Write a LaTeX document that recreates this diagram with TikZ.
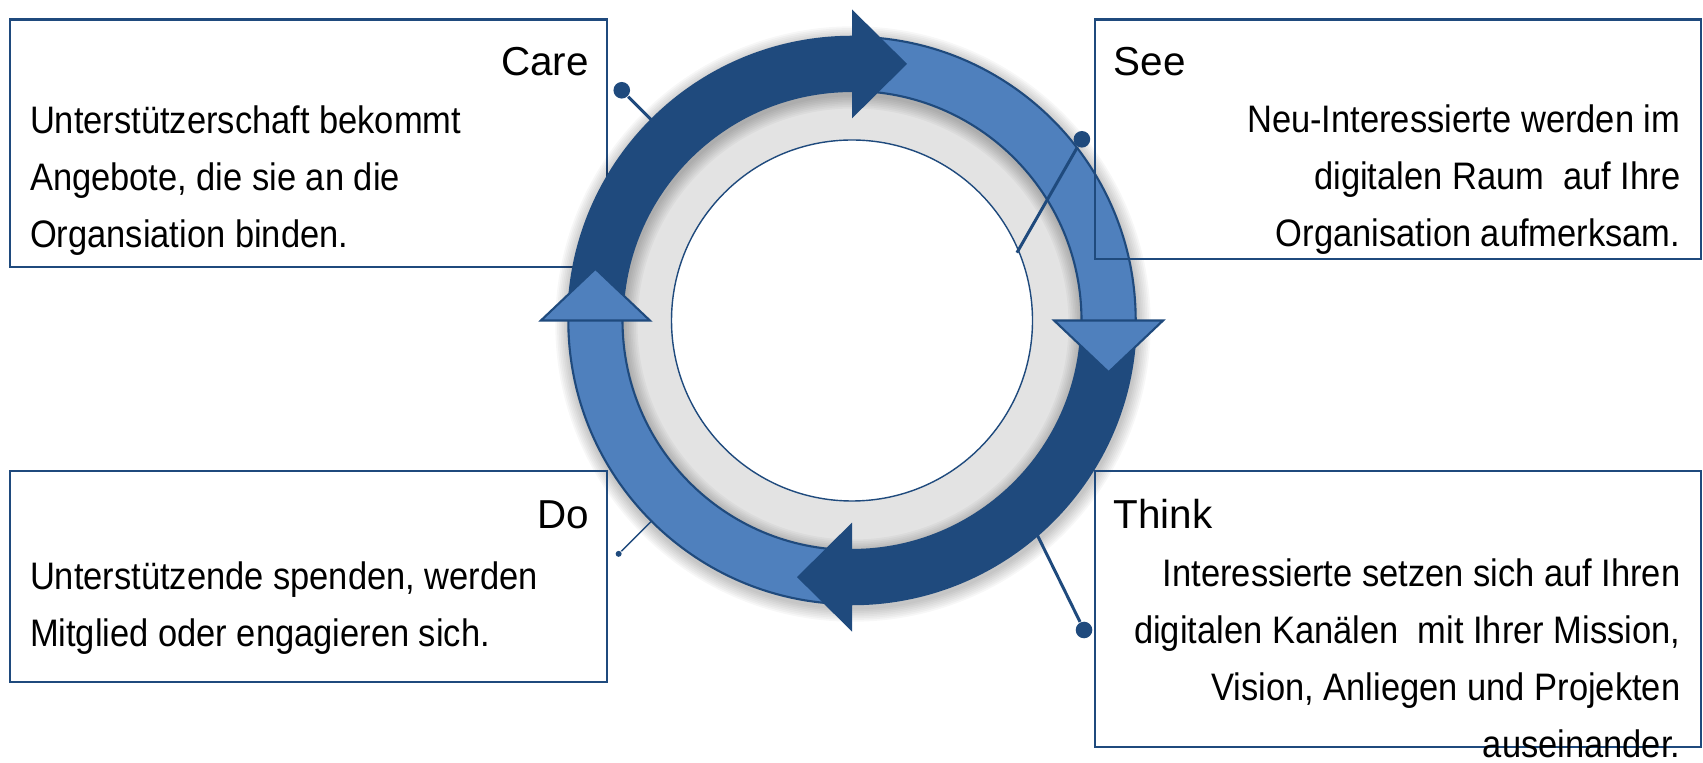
\documentclass[tikz,border=0pt]{standalone}
\usepackage{fontspec}
\setmainfont{Liberation Sans}[FakeStretch=0.9]
\newfontfamily\headfont{Liberation Sans}
\usepackage{tikz}
\usetikzlibrary{calc,positioning}
\definecolor{navy}{rgb}{0.12,0.29,0.49}
\definecolor{steelblue}{rgb}{0.31,0.50,0.74}
\definecolor{ringgray}{rgb}{0.89,0.89,0.89}

\begin{document}
\begin{tikzpicture}
        \tikzstyle{stage}=[draw=navy, line width=0.6pt, inner sep=0pt, anchor=north west]
        \tikzstyle{txt}=[inner sep=0pt, font=\fontsize{10.9}{16.2}\selectfont]
        \tikzstyle{head title}=[inner sep=0pt, font=\headfont\fontsize{11.5}{14}\selectfont]
        \tikzstyle{pin}=[navy, line width=0.85pt]
        \tikzstyle{knob}=[circle, fill=navy, inner sep=0pt, minimum size=0.166cm]
        \tikzstyle{head}=[draw=navy, line width=0.6pt, fill=steelblue, line join=miter]
        \useasboundingbox (0,0) rectangle (17.03,7.62);

        % Centre of the cycle
        \coordinate (ctr) at (8.52,4.415);

        % Care box lies under the ring
        \node (care)[stage, minimum width=5.97cm, minimum height=2.472cm] at (0.087,7.435) {};

        % Gray band with soft shadow
        \fill[ringgray] (ctr) circle (2.295);
        \foreach \w in {1,...,8} {
            \pgfmathsetmacro\lw{0.542+0.035*\w}
            \draw[black, opacity=0.032, line width=\lw cm] ($(ctr)+(0.01,-0.035)$) circle (2.566);
        }
        \draw[navy, line width=0.4pt, fill=white] (ctr) circle (1.805);

        % Light band
        \draw[navy, line width=0.6pt, fill=steelblue, even odd rule]
            (ctr) circle (2.837) (ctr) circle (2.295);

        % Dark arcs and their heads
        \draw[navy, line width=0.542cm] ($(ctr)+(180:2.566)$) arc[start angle=180, end angle=90, radius=2.566];
        \fill[navy] ($(ctr)+(0,2.021)$) -- ($(ctr)+(0,3.111)$) -- ($(ctr)+(0.55,2.566)$) -- cycle;
        \draw[navy, line width=0.542cm] ($(ctr)+(0:2.566)$) arc[start angle=0, end angle=-90, radius=2.566];
        \fill[navy] ($(ctr)+(0,-2.021)$) -- ($(ctr)+(0,-3.111)$) -- ($(ctr)+(-0.55,-2.566)$) -- cycle;

        % Light heads
        \draw[head] ($(ctr)+(2.021,0)$) -- ($(ctr)+(3.111,0)$) -- ($(ctr)+(2.566,-0.517)$) -- cycle;
        \draw[head] ($(ctr)+(-2.021,0)$) -- ($(ctr)+(-3.111,0)$) -- ($(ctr)+(-2.566,0.517)$) -- cycle;

        % Other boxes
        \node (see)[stage, minimum width=6.06cm, minimum height=2.392cm] at (10.94,7.435) {};
        \node (do)[stage, minimum width=5.97cm, minimum height=2.11cm] at (0.087,2.92) {};
        \node (think)[stage, minimum width=6.06cm, minimum height=2.76cm] at (10.94,2.92) {};

        % Pins
        \coordinate (care-a) at ($(ctr)+(135:2.83)$);
        \node (care-dot)[knob] at ($(ctr)+(135:3.256)$) {};
        \draw[pin] (care-a) -- (care-dot);

        \coordinate (see-a) at ($(ctr)+(1.649,0.678)$);
        \node (see-dot)[knob] at ($(ctr)+(2.299,1.812)$) {};
        \draw[pin] (see-a) -- (see-dot);

        \coordinate (think-a) at ($(ctr)+(1.843,-2.125)$);
        \node (think-dot)[knob] at ($(ctr)+(2.32,-3.095)$) {};
        \draw[pin] (think-a) -- (think-dot);

        \coordinate (do-a) at ($(ctr)+(225:2.83)$);
        \node (do-dot)[knob, minimum size=0.06cm] at ($(ctr)+(225:3.30)$) {};
        \draw[navy, line width=0.4pt] (do-a) -- (do-dot);

        % Titles
        \node (care-t)[head title, anchor=base east] at (5.895,6.86) {Care};
        \node (see-t)[head title, anchor=base west] at (11.13,6.86) {See};
        \node (do-t)[head title, anchor=base east] at (5.895,2.33) {Do};
        \node (think-t)[head title, anchor=base west] at (11.13,2.33) {Think};

        % Texts
        \node (care-b)[txt, align=left, anchor=north west] at (0.293,6.566)
            {Unterstützerschaft bekommt\\Angebote, die sie an die\\Organsiation binden.};
        \node (see-b)[txt, align=right, anchor=north east] at (16.81,6.575)
            {Neu-Interessierte werden im\\digitalen Raum~~auf Ihre\\Organisation aufmerksam.};
        \node (do-b)[txt, align=left, anchor=north west] at (0.293,2.013)
            {Unterstützende spenden, werden\\Mitglied oder engagieren sich.};
        \node (think-b)[txt, align=right, anchor=north east] at (16.81,2.035)
            {Interessierte setzen sich auf Ihren\\digitalen Kanälen~~mit Ihrer Mission,\\Vision, Anliegen und Projekten\\auseinander.};
\end{tikzpicture}
\end{document}
